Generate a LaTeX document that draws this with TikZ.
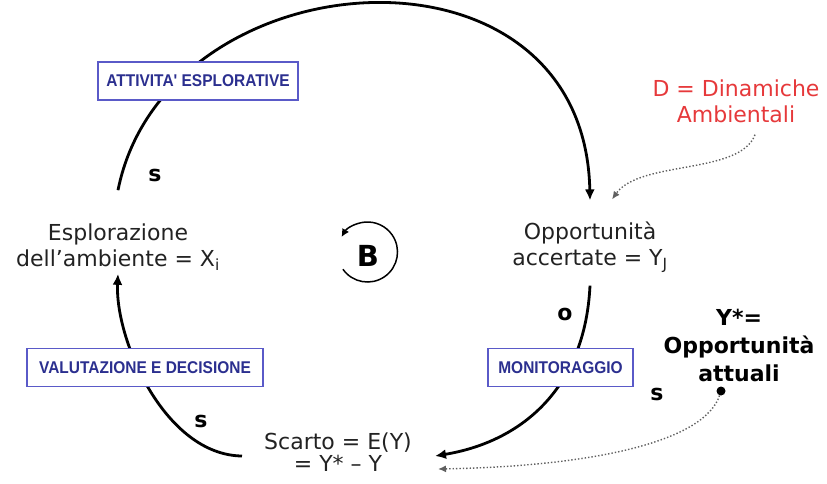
\documentclass[tikz,border=0pt]{standalone}
\usepackage{fontspec}
\setmainfont{DejaVu Sans}
\newfontfamily\boxfont[FakeStretch=0.91]{Liberation Sans}
\usetikzlibrary{arrows.meta,calc}
\definecolor{boxblue}{HTML}{5A5AC8}
\definecolor{boxtext}{HTML}{2B2F8F}
\definecolor{dynred}{HTML}{E6393B}
\definecolor{dotgray}{HTML}{606060}
\definecolor{ink}{HTML}{222222}
\begin{document}
\begin{tikzpicture}[x=1pt,y=-1pt,
  every node/.style={inner sep=0pt},
  var/.style={align=center,text=ink,font=\fontsize{22}{26}\selectfont},
  sign/.style={font=\fontsize{22}{26}\selectfont\bfseries},
  phase/.style={draw=boxblue,line width=1.3pt,fill=white,text=boxtext,
    font=\boxfont\fontsize{17}{20}\selectfont\bfseries,minimum height=38pt},
  flow/.style={line width=2.8pt,-{Latex[length=11pt,width=10pt]}},
  influence/.style={dotgray,line width=1.4pt,dotted,-{Latex[length=8pt,width=7pt]}}]
\useasboundingbox (0,0) rectangle (827,483);

% variables of the loop
\node[var] (expl) at (118,247) {Esplorazione\\dell’ambiente = X\textsubscript{i}};
\node[var] (opp) at (590,247) {Opportunità\\accertate = Y\textsubscript{J}};
\node[var,font=\fontsize{22}{22}\selectfont] (scarto) at (338,452) {Scarto = E(Y)\\= Y* – Y};
\node[var,text=dynred] (dyn) at (736,101) {D = Dinamiche\\Ambientali};
\node[align=center,font=\fontsize{22}{28}\selectfont\bfseries] (ystar) at (739,345) {Y*=\\Opportunità\\attuali};
\node[circle,fill=black,minimum size=9pt] (dot) at (721,391) {};

% balancing loop marker
\node[font=\fontsize{29}{30}\selectfont\bfseries] (bal) at (368,256) {B};
\coordinate (bc) at (367.5,252);
\draw[line width=1.5pt,-{Latex[length=8pt,width=8pt]}]
  ([shift={(145:30)}]bc) arc[start angle=145,end angle=-150,radius=30];

% causal links
\draw[flow] ([yshift=33pt]expl.north) .. controls (165,-45) and (585,-75) .. ([yshift=21pt]opp.north);
\draw[flow] ([yshift=-13pt]opp.south) .. controls (585,390) and (520,442) .. ([shift={(23pt,-4pt)}]scarto.east);
\draw[flow] ([shift={(-22pt,-4pt)}]scarto.west) .. controls (165,455) and (115,340) .. ([yshift=-3pt]expl.south);

% external influences
\draw[influence] ([shift={(19pt,-12pt)}]dyn.south) .. controls (740,175) and (640,160) .. ([shift={(22pt,22pt)}]opp.north);
\draw[influence] (dot) .. controls (705,440) and (600,466) .. ([shift={(26pt,-17pt)}]scarto.east);

% phases of the process
\node[phase,minimum width=200pt] (p1) at (198,81) {ATTIVITA' ESPLORATIVE};
\node[phase,minimum width=236pt] (p2) at (145,367.5) {VALUTAZIONE E DECISIONE};
\node[phase,minimum width=145pt] (p3) at (560.5,367.5) {MONITORAGGIO};

% link polarities
\node[sign] (s1) at (155,175) {s};
\node[sign] (o1) at (565,314) {o};
\node[sign] (s2) at (201,421) {s};
\node[sign] (s3) at (657,394) {s};
\end{tikzpicture}
\end{document}
